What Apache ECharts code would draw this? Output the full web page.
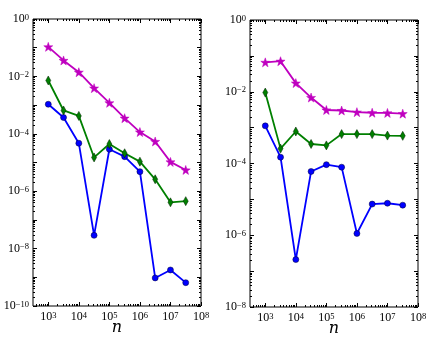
<!DOCTYPE html>
<html><head><meta charset="utf-8">
<script src="https://cdn.jsdelivr.net/npm/echarts@6/dist/echarts.min.js"></script>
<style>html,body{margin:0;padding:0;background:#fff}#c{width:436px;height:342px}</style>
</head><body><div id="c"></div>
<script>
// problem sizes n
const nValues = [1e3, 3162.28, 1e4, 31622.8, 1e5, 316228, 1e6, 3162278, 1e7, 31622777];
// left panel
const leftCircle  = [1.07e-3, 3.7e-4, 4.7e-5, 2.9e-8, 2.9e-5, 1.6e-5, 4.8e-6, 9.5e-10, 1.8e-9, 6.5e-10];
const leftDiamond = [7.2e-3, 6.5e-4, 4.2e-4, 1.5e-5, 4.4e-5, 2.1e-5, 1.07e-5, 2.6e-6, 4.1e-7, 4.5e-7];
const leftStar    = [1.07e-1, 3.6e-2, 1.4e-2, 3.9e-3, 1.2e-3, 3.5e-4, 1.15e-4, 5.4e-5, 1.05e-5, 5.5e-6];
// right panel
const rightCircle  = [1.12e-3, 1.5e-4, 2.1e-7, 6.0e-5, 9.3e-5, 7.9e-5, 1.12e-6, 7.4e-6, 7.8e-6, 6.9e-6];
const rightDiamond = [9.5e-3, 2.6e-4, 7.8e-4, 3.5e-4, 3.2e-4, 6.6e-4, 6.6e-4, 6.6e-4, 6.0e-4, 5.9e-4];
const rightStar    = [6.6e-2, 7.1e-2, 1.74e-2, 6.9e-3, 3.1e-3, 3.0e-3, 2.7e-3, 2.6e-3, 2.57e-3, 2.45e-3];
// tick labels
const xTicks = [1e3, 1e4, 1e5, 1e6, 1e7, 1e8];
const leftYTicks = [1e-10, 1e-8, 1e-6, 1e-4, 1e-2, 1];
const rightYTicks = [1e-8, 1e-6, 1e-4, 1e-2, 1];
const xName = 'n';

const FONT = 'Liberation Serif';
function minorsFor(min, max) {
  const out = [];
  for (let d = Math.floor(Math.log10(min)) - 1; d <= Math.ceil(Math.log10(max)); d++) {
    for (let k = 2; k <= 9; k++) {
      const v = k * Math.pow(10, d);
      if (v > min * 1.0001 && v < max * 0.9999) out.push(v);
    }
  }
  return out;
}
function majorsFor(min, max) {
  const out = [];
  for (let d = Math.ceil(Math.log10(min) - 1e-9); d <= Math.floor(Math.log10(max) + 1e-9); d++) out.push(Math.pow(10, d));
  return out;
}
function fmt(v) {
  const e = Math.round(Math.log10(v));
  return '{b|10}{s|' + (e < 0 ? '\u2212' + (-e) : e) + '}';
}
const rich = {
  b: {fontFamily: FONT, fontSize: 12, color: '#000', verticalAlign: 'bottom'},
  s: {fontFamily: FONT, fontSize: 8.5, color: '#000', verticalAlign: 'top', padding: [0, 0, 3, 0]}
};
function axisSet(kind, grid, min, max, labels, name) {
  const majors = majorsFor(min, max);
  const minors = minorsFor(min, max);
  const pos = kind === 'x' ? ['bottom', 'top'] : ['left', 'right'];
  const res = [];
  pos.forEach((p, i) => {
    const base = {type: 'log', logBase: 10, gridIndex: grid, min: min, max: max, position: p,
      axisLine: {show: false}, splitLine: {show: false}, minorTick: {show: false}, minorSplitLine: {show: false}};
    res.push(Object.assign({}, base, {
      axisTick: {show: true, inside: true, length: 4, lineStyle: {color: '#000', width: 1}, customValues: majors},
      axisLabel: (i === 0) ? {show: true, customValues: labels, formatter: fmt, rich: rich, margin: kind === 'x' ? 5 : 4, hideOverlap: false} : {show: false},
      name: (i === 0 && name) ? name : '',
      nameLocation: 'middle', nameGap: 14, nameMoveOverlap: false,
      nameTextStyle: {fontFamily: 'DejaVu Serif', fontStyle: 'italic', fontSize: 16, color: '#000'}
    }));
    res.push(Object.assign({}, base, {
      axisTick: {show: true, inside: true, length: 2, lineStyle: {color: '#000', width: 1}, customValues: minors},
      axisLabel: {show: false}
    }));
  });
  return res;
}
function starPath() {
  const pts = [];
  for (let i = 0; i < 10; i++) {
    const r = i % 2 === 0 ? 1 : 0.4;
    const a = -Math.PI / 2 + i * Math.PI / 5;
    pts.push(((1 + r * Math.cos(a)) * 10).toFixed(2) + ',' + ((1 + r * Math.sin(a)) * 10).toFixed(2));
  }
  return 'path://M' + pts.join('L') + 'Z';
}
const STAR = starPath();
function ser(data, gi, color, symbol, size, edge) {
  return {
    type: 'line', xAxisIndex: gi * 4, yAxisIndex: gi * 4,
    data: nValues.map((x, i) => [x, data[i]]),
    symbol: symbol, symbolSize: size, showSymbol: true,
    lineStyle: {color: color, width: 1.8},
    itemStyle: {color: color, borderColor: edge, borderWidth: 0.5},
    emphasis: {disabled: true}, animation: false, z: 3
  };
}
const xA = [].concat(
  axisSet('x', 0, Math.pow(10, 2.5), 1e8, xTicks, xName),
  axisSet('x', 1, Math.pow(10, 2.5), 1e8, xTicks, xName));
const yA = [].concat(
  axisSet('y', 0, 1e-10, 1, leftYTicks, ''),
  axisSet('y', 1, 1e-8, 1, rightYTicks, ''));
const chart = echarts.init(document.getElementById('c'), null, {renderer: 'canvas'});
chart.setOption({
  animation: false,
  backgroundColor: '#fff',
  grid: [
    {left: 33, top: 19, width: 168, height: 287, show: true, borderColor: '#000', borderWidth: 1, backgroundColor: 'transparent', containLabel: false, outerBoundsMode: 'none'},
    {left: 250, top: 20, width: 168, height: 287, show: true, borderColor: '#000', borderWidth: 1, backgroundColor: 'transparent', containLabel: false, outerBoundsMode: 'none'}
  ],
  xAxis: xA,
  yAxis: yA,
  series: [
    ser(leftCircle, 0, '#0000ff', 'circle', 6, '#000033'),
    ser(leftDiamond, 0, '#008000', 'diamond', [5, 9], '#002000'),
    ser(leftStar, 0, '#bf00bf', STAR, 9, '#bf00bf'),
    ser(rightCircle, 1, '#0000ff', 'circle', 6, '#000033'),
    ser(rightDiamond, 1, '#008000', 'diamond', [5, 9], '#002000'),
    ser(rightStar, 1, '#bf00bf', STAR, 9, '#bf00bf')
  ]
});
</script>
</body></html>
